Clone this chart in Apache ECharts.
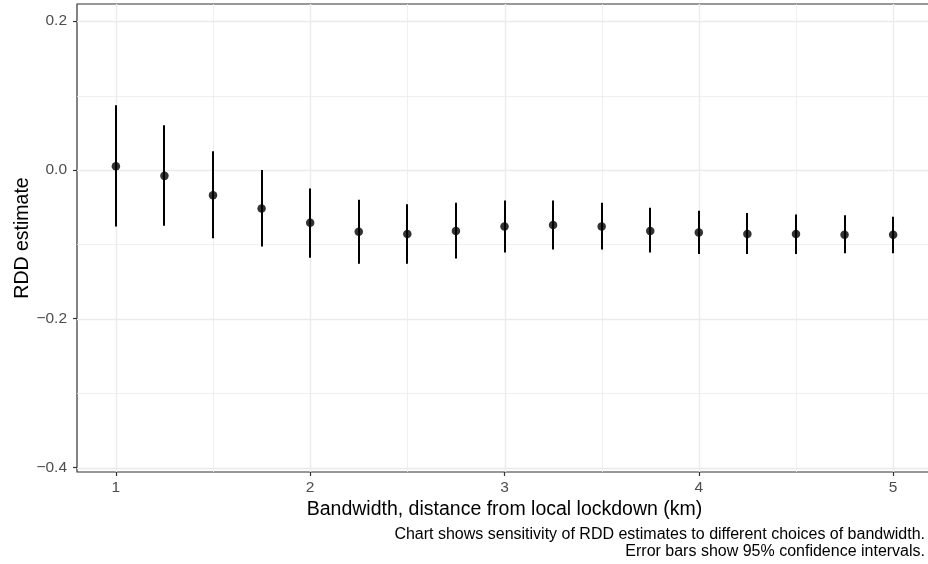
<!DOCTYPE html>
<html>
<head>
<meta charset="utf-8">
<script src="https://cdn.jsdelivr.net/npm/echarts@6/dist/echarts.min.js"></script>
<style>
  html, body { margin: 0; padding: 0; background: #fff; }
  #chart { width: 928px; height: 564px; }
</style>
</head>
<body>
<div id="chart"></div>
<script>
// bandwidths (km) and RDD estimates with 95% CI bounds
const bandwidths = [1, 1.25, 1.5, 1.75, 2, 2.25, 2.5, 2.75, 3, 3.25, 3.5, 3.75, 4, 4.25, 4.5, 4.75, 5]
const estimates = [0.005, -0.008, -0.034, -0.052, -0.071, -0.083, -0.086, -0.082, -0.076, -0.074, -0.076, -0.082, -0.084, -0.086, -0.086, -0.087, -0.087]
const ciLower = [-0.076, -0.075, -0.092, -0.103, -0.118, -0.126, -0.126, -0.119, -0.111, -0.107, -0.107, -0.111, -0.113, -0.113, -0.113, -0.112, -0.112]
const ciUpper = [0.087, 0.060, 0.025, 0.000, -0.025, -0.040, -0.046, -0.044, -0.041, -0.041, -0.044, -0.051, -0.055, -0.058, -0.060, -0.061, -0.063]

const xTicks = [1, 2, 3, 4, 5]
const xMinor = [1.5, 2.5, 3.5, 4.5]
const yTicks = [0.2, 0, -0.2, -0.4]
const yTickLabels = ['0.2', '0.0', '\u22120.2', '\u22120.4']
const yMinor = [0.1, -0.1, -0.3]

const font = 'Liberation Sans, Arial, Helvetica, sans-serif'
const xMin = 0.8, xMax = 5.2
const yMin = -0.406, yMax = 0.223

let chart = echarts.init(document.getElementById('chart'))

// vertical grid lines: [x, major], horizontal: [y, major]
let vLines = [].concat(xMinor.map(v => [v, 0]), xTicks.map(v => [v, 1]))
let hLines = [].concat(yMinor.map(v => [v, 0]), yTicks.map(v => [v, 1]))

function gridSeries(data, vertical) {
    return {
        type: 'custom',
        z: 1,
        silent: true,
        clip: false,
        encode: vertical ? { x: 0 } : { y: 0 },
        data: data,
        renderItem: function (params, api) {
            let cs = params.coordSys
            let w = api.value(1) ? 1.4 : 0.8
            let shape
            if (vertical) {
                let x = Math.round(api.coord([api.value(0), yMin])[0]) + 0.5
                shape = { x1: x, y1: cs.y, x2: x, y2: cs.y + cs.height }
            } else {
                let y = Math.round(api.coord([xMin, api.value(0)])[1]) + 0.5
                shape = { x1: cs.x, y1: y, x2: cs.x + cs.width, y2: y }
            }
            return { type: 'line', shape: shape, style: { stroke: '#EBEBEB', lineWidth: w } }
        }
    }
}

let option = {
    animation: false,
    backgroundColor: '#fff',
    grid: {
        left: 77, top: 4, right: -4, bottom: 92,
        outerBoundsMode: 'none',
        containLabel: false,
        show: true, borderColor: '#333333', borderWidth: 1.2, backgroundColor: '#fff'
    },
    xAxis: {
        type: 'value',
        min: xMin, max: xMax,
        name: 'Bandwidth, distance from local lockdown (km)',
        nameLocation: 'middle',
        nameGap: 28,
        nameMoveOverlap: false,
        nameTextStyle: { fontFamily: font, fontSize: 19.5, color: '#000' },
        axisLine: { show: false, onZero: false },
        splitLine: { show: false },
        axisTick: { show: true, length: 4, lineStyle: { color: '#333333', width: 1.2 }, customValues: xTicks },
        axisLabel: { fontFamily: font, fontSize: 15.5, color: '#4D4D4D', margin: 8, customValues: xTicks }
    },
    yAxis: {
        type: 'value',
        min: yMin, max: yMax,
        name: 'RDD estimate',
        nameLocation: 'middle',
        nameGap: 44,
        nameMoveOverlap: false,
        nameTextStyle: { fontFamily: font, fontSize: 19.5, color: '#000' },
        axisLine: { show: false, onZero: false },
        splitLine: { show: false },
        axisTick: { show: true, length: 4, lineStyle: { color: '#333333', width: 1.2 }, customValues: yTicks },
        axisLabel: {
            fontFamily: font, fontSize: 15.5, color: '#4D4D4D', margin: 10,
            customValues: yTicks,
            formatter: v => {
                let i = yTicks.findIndex(t => Math.abs(t - v) < 1e-9)
                return i >= 0 ? yTickLabels[i] : ''
            }
        }
    },
    series: [
        gridSeries(vLines, true),
        gridSeries(hLines, false),
        {
            type: 'custom',
            z: 3,
            data: bandwidths.map((b, i) => [b, ciLower[i], ciUpper[i]]),
            renderItem: function (params, api) {
                let p1 = api.coord([api.value(0), api.value(1)])
                let p2 = api.coord([api.value(0), api.value(2)])
                let x = Math.round(p1[0])
                return {
                    type: 'line',
                    shape: { x1: x, y1: p1[1], x2: x, y2: p2[1] },
                    style: { stroke: '#000', lineWidth: 2 }
                }
            }
        },
        {
            type: 'scatter',
            z: 4,
            symbol: 'circle',
            symbolSize: 8.5,
            itemStyle: { color: '#000' },
            data: bandwidths.map((b, i) => [b, estimates[i]])
        }
    ],
    graphic: [
        {
            type: 'text',
            x: 925, y: 535,
            style: {
                text: 'Chart shows sensitivity of RDD estimates to different choices of bandwidth.',
                align: 'right', verticalAlign: 'middle',
                fontFamily: font, fontSize: 16, fill: '#000'
            }
        },
        {
            type: 'text',
            x: 925, y: 552,
            style: {
                text: 'Error bars show 95% confidence intervals.',
                align: 'right', verticalAlign: 'middle',
                fontFamily: font, fontSize: 16, fill: '#000'
            }
        }
    ]
}

chart.setOption(option)
</script>
</body>
</html>
